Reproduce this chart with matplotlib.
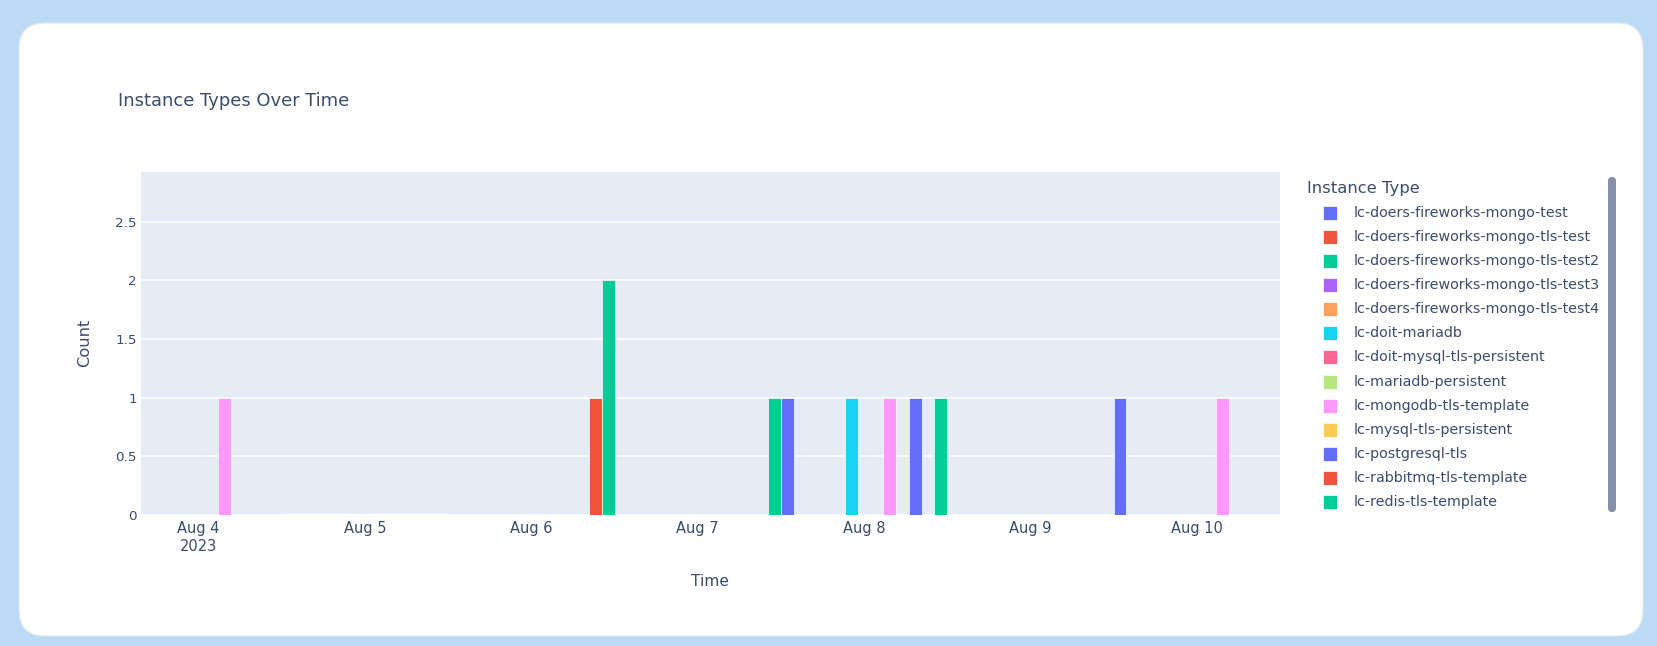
import matplotlib
matplotlib.use("Agg")
import matplotlib.pyplot as plt
import matplotlib.dates as mdates
from matplotlib.patches import FancyBboxPatch, Rectangle
import numpy as np
from datetime import datetime, timedelta

# ---------------- data ----------------
instance_types = [
    "lc-doers-fireworks-mongo-test",
    "lc-doers-fireworks-mongo-tls-test",
    "lc-doers-fireworks-mongo-tls-test2",
    "lc-doers-fireworks-mongo-tls-test3",
    "lc-doers-fireworks-mongo-tls-test4",
    "lc-doit-mariadb",
    "lc-doit-mysql-tls-persistent",
    "lc-mariadb-persistent",
    "lc-mongodb-tls-template",
    "lc-mysql-tls-persistent",
    "lc-postgresql-tls",
    "lc-rabbitmq-tls-template",
    "lc-redis-tls-template",
]
type_colors = ["#636EFA", "#EF553B", "#00CC96", "#AB63FA", "#FFA15A", "#19D3F3",
               "#FF6692", "#B6E880", "#FF97FF", "#FECB52", "#636EFA", "#EF553B", "#00CC96"]

# daily histogram bins (centre date of each 1-day bin), instance type, count
bin_centres = ["2023-08-04", "2023-08-06", "2023-08-06", "2023-08-07", "2023-08-08",
               "2023-08-08", "2023-08-08", "2023-08-08", "2023-08-08", "2023-08-10", "2023-08-10"]
bin_types = ["lc-mongodb-tls-template", "lc-rabbitmq-tls-template", "lc-redis-tls-template",
             "lc-redis-tls-template", "lc-doers-fireworks-mongo-test", "lc-doit-mariadb",
             "lc-mongodb-tls-template", "lc-postgresql-tls", "lc-redis-tls-template",
             "lc-doers-fireworks-mongo-test", "lc-mongodb-tls-template"]
bin_counts = [1, 1, 2, 1, 1, 1, 1, 1, 1, 1, 1]

tick_dates = ["2023-08-04", "2023-08-05", "2023-08-06", "2023-08-07",
              "2023-08-08", "2023-08-09", "2023-08-10"]
tick_labels = ["Aug 4\n2023", "Aug 5", "Aug 6", "Aug 7", "Aug 8", "Aug 9", "Aug 10"]
y_ticks = [0, 0.5, 1, 1.5, 2, 2.5]
y_tick_labels = ["0", "0.5", "1", "1.5", "2", "2.5"]

title = "Instance Types Over Time"
x_title = "Time"
y_title = "Count"
legend_title = "Instance Type"

# ---------------- style ----------------
plt.rcParams['font.family'] = ['DejaVu Sans']
TXT = "#3b4d6b"
W, H = 1658, 646
fig = plt.figure(figsize=(W / 100, H / 100), dpi=100)
fig.patch.set_facecolor("#BBDAF5")

# background axes in pixel coordinates (y downwards)
bg = fig.add_axes([0, 0, 1, 1], zorder=0)
bg.set_xlim(0, W)
bg.set_ylim(H, 0)
bg.axis("off")
bg.add_patch(FancyBboxPatch((19, 23), 1643 - 19, 636 - 23,
                            boxstyle="round,pad=0,rounding_size=26",
                            facecolor="white", edgecolor="#e3e8ee", linewidth=1))

# main plot area
L, R, T, B = 141, 1280, 171.7, 515
ax = fig.add_axes([L / W, 1 - B / H, (R - L) / W, (B - T) / H], zorder=1)
ax.set_facecolor("#E5ECF6")
for s in ax.spines.values():
    s.set_visible(False)

n = len(instance_types)
slot = 1.0 / n
centres = mdates.date2num([datetime.strptime(d, "%Y-%m-%d") for d in bin_centres])
for c, t, v in zip(centres, bin_types, bin_counts):
    i = instance_types.index(t)
    x = c - 0.5 + (i + 0.5) * slot
    ax.bar(x, v, width=slot, color=type_colors[i], edgecolor="white",
           linewidth=0.5, zorder=3)

tick_nums = mdates.date2num([datetime.strptime(d, "%Y-%m-%d") for d in tick_dates])
first = tick_nums[0]
ax.set_xlim(first - 0.5 + 2 * slot, tick_nums[-1] + 0.5)
ax.set_ylim(0, 2.926)

# empty-bin outline along the baseline
ax.plot([first + 0.5, first + 1.5], [0, 0], color="white", lw=1.2, zorder=2,
        solid_capstyle="butt")

ax.set_yticks(y_ticks)
ax.set_yticklabels(y_tick_labels)
ax.set_xticks(tick_nums)
ax.set_xticklabels(tick_labels, linespacing=1.25)
ax.grid(axis="y", color="white", linewidth=1.1, zorder=1)
ax.grid(axis="x", visible=False)
ax.set_axisbelow(True)
ax.tick_params(axis="both", length=0, colors=TXT)
ax.tick_params(axis="y", pad=3, labelsize=9.7)
ax.tick_params(axis="x", pad=4, labelsize=10.5)
for lbl in ax.get_xticklabels():
    lbl.set_verticalalignment("top")

# titles
bg.text(118, 101, title, fontsize=12.9, color=TXT, ha="left", va="center")
bg.text(710, 581, x_title, fontsize=11.2, color=TXT, ha="center", va="center")
bg.text(85, 343, y_title, fontsize=11.7, color=TXT, ha="center", va="center",
        rotation=90)

# legend
bg.text(1307, 188.5, legend_title, fontsize=11.8, color=TXT, ha="left", va="center")
row0, dy = 212.5, 24.15
for i, (name, col) in enumerate(zip(instance_types, type_colors)):
    yc = row0 + i * dy
    bg.add_patch(Rectangle((1323.5, yc - 7), 14, 14, facecolor=col,
                           edgecolor="white", linewidth=0.5))
    bg.text(1354, yc, name, fontsize=10.3, color=TXT, ha="left", va="center")

# legend scrollbar
bg.add_patch(FancyBboxPatch((1608, 177), 8, 335,
                            boxstyle="round,pad=0,rounding_size=4",
                            facecolor="#8790AA", edgecolor="none"))

fig.savefig("out.png", dpi=100, facecolor=fig.get_facecolor())
